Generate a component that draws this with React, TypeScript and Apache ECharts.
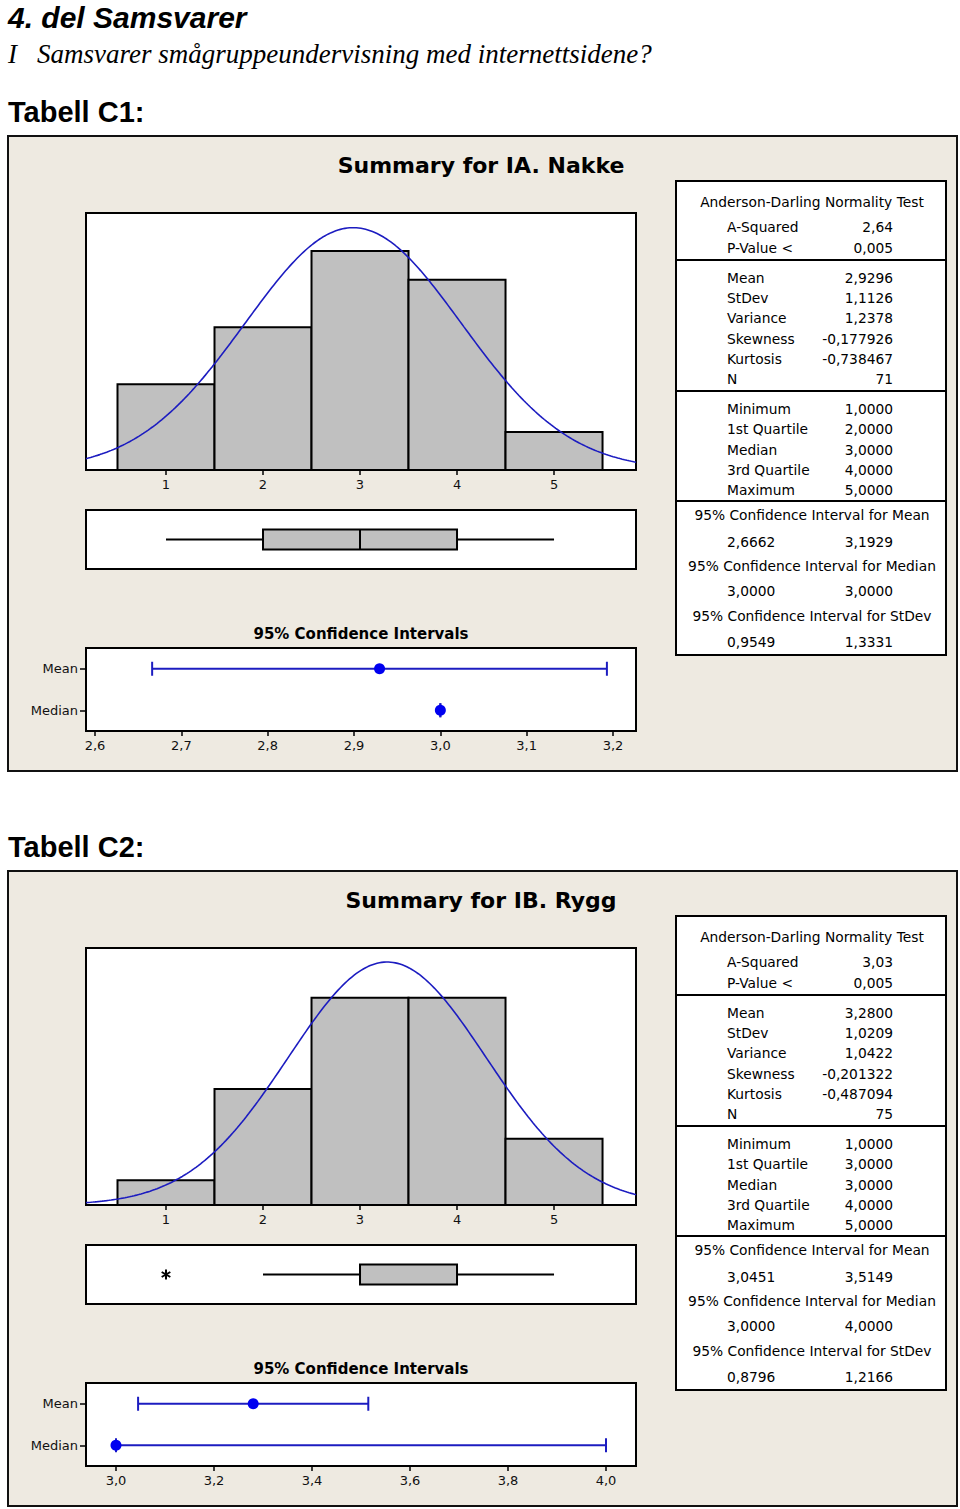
import React, { useEffect, useRef } from "react";
import * as echarts from "echarts";

// ---------------- data ----------------
const BIN_VALUES = [1, 2, 3, 4, 5];
const COUNTS_C1 = [9, 15, 23, 20, 4];
const COUNTS_C2 = [3, 14, 25, 25, 8];
const HIST_TICKS = [1, 2, 3, 4, 5];

const MEAN_C1 = 2.9296;
const SD_C1 = 1.1126;
const N_C1 = 71;
const MEAN_C2 = 3.28;
const SD_C2 = 1.0209;
const N_C2 = 75;

// whisker low, Q1, median, Q3, whisker high
const BOX_C1 = [1, 2, 3, 4, 5];
const BOX_C2 = [2, 3, 3, 4, 5];
const OUTLIERS_C1: number[] = [];
const OUTLIERS_C2 = [1];

const CI_CATEGORIES = ["Median", "Mean"];
// low, high, point
const CI_MEAN_C1 = [2.6662, 3.1929, 2.9296];
const CI_MEDIAN_C1 = [3.0, 3.0, 3.0];
const CI_MEAN_C2 = [3.0451, 3.5149, 3.28];
const CI_MEDIAN_C2 = [3.0, 4.0, 3.0];
const CI_TICKS_C1 = [2.6, 2.7, 2.8, 2.9, 3.0, 3.1, 3.2];
const CI_TICKS_C2 = [3.0, 3.2, 3.4, 3.6, 3.8, 4.0];

const SUMMARY_TITLES = ["Summary for IA. Nakke", "Summary for IB. Rygg"];
const TABLE_HEADINGS = ["Tabell C1:", "Tabell C2:"];

const AD_TITLE = "Anderson-Darling Normality Test";
const AD_LABELS = ["A-Squared", "P-Value <"];
const AD_VALUES_C1 = ["2,64", "0,005"];
const AD_VALUES_C2 = ["3,03", "0,005"];
const MOMENT_LABELS = ["Mean", "StDev", "Variance", "Skewness", "Kurtosis", "N"];
const MOMENT_VALUES_C1 = ["2,9296", "1,1126", "1,2378", "-0,177926", "-0,738467", "71"];
const MOMENT_VALUES_C2 = ["3,2800", "1,0209", "1,0422", "-0,201322", "-0,487094", "75"];
const QUANT_LABELS = ["Minimum", "1st Quartile", "Median", "3rd Quartile", "Maximum"];
const QUANT_VALUES_C1 = ["1,0000", "2,0000", "3,0000", "4,0000", "5,0000"];
const QUANT_VALUES_C2 = ["1,0000", "3,0000", "3,0000", "4,0000", "5,0000"];
const CI_TITLES = [
  "95% Confidence Interval for Mean",
  "95% Confidence Interval for Median",
  "95% Confidence Interval for StDev",
];
const CI_VALUES_C1 = [["2,6662", "3,1929"], ["3,0000", "3,0000"], ["0,9549", "1,3331"]];
const CI_VALUES_C2 = [["3,0451", "3,5149"], ["3,0000", "4,0000"], ["0,8796", "1,2166"]];

// ---------------- helpers ----------------
const FONT = '"DejaVu Sans", "Noto Sans", sans-serif';
const BLUE_LINE = "#1C1CC0";
const BLUE_DOT = "#0000F0";

function normalCurve(mean: number, sd: number, n: number, lo: number, hi: number) {
  const pts: number[][] = [];
  const steps = 240;
  for (let i = 0; i <= steps; i++) {
    const x = lo + ((hi - lo) * i) / steps;
    const y = (n * Math.exp(-0.5 * ((x - mean) / sd) ** 2)) / (sd * Math.sqrt(2 * Math.PI));
    pts.push([x, y]);
  }
  return pts;
}

function txt(x: number, y: number, text: string, font: string, align = "left", z = 20) {
  return {
    type: "text",
    z,
    style: {
      x,
      y,
      text,
      font,
      fill: "#000",
      textAlign: align,
      align,
      textVerticalAlign: "middle",
      verticalAlign: "middle",
    },
  };
}

function hline(x1: number, x2: number, y: number, z = 15) {
  return {
    type: "line",
    z,
    shape: { x1, y1: y, x2, y2: y },
    style: { stroke: "#000", lineWidth: 2 },
  };
}

const HIST_MIN = 0.1753;
const HIST_MAX = 5.845;

function buildPanel(k: number) {
  const dy = 735 * k;
  const counts = k === 0 ? COUNTS_C1 : COUNTS_C2;
  const mean = k === 0 ? MEAN_C1 : MEAN_C2;
  const sd = k === 0 ? SD_C1 : SD_C2;
  const n = k === 0 ? N_C1 : N_C2;
  const box = k === 0 ? BOX_C1 : BOX_C2;
  const outliers = k === 0 ? OUTLIERS_C1 : OUTLIERS_C2;
  const ciMean = k === 0 ? CI_MEAN_C1 : CI_MEAN_C2;
  const ciMedian = k === 0 ? CI_MEDIAN_C1 : CI_MEDIAN_C2;
  const ciTicks = k === 0 ? CI_TICKS_C1 : CI_TICKS_C2;
  const ciMin = k === 0 ? 2.5896 : 2.9388;
  const ciMax = k === 0 ? 3.2266 : 4.0612;
  const histMax = k === 0 ? 27 : 31;
  const gi = k * 3;

  const grids = [
    { left: 86, top: 213 + dy, width: 550, height: 257 },
    { left: 86, top: 510 + dy, width: 550, height: 59 },
    { left: 86, top: 648 + dy, width: 550, height: 83 },
  ].map((g) => ({
    ...g,
    show: true,
    backgroundColor: "#fff",
    borderColor: "#000",
    borderWidth: 2,
    containLabel: false,
    z: 1,
  }));

  const axisLabelBase = { fontFamily: FONT, fontSize: 13, color: "#111" };

  const xAxes = [
    {
      gridIndex: gi,
      type: "value",
      min: HIST_MIN,
      max: HIST_MAX,
      axisLine: { show: false },
      splitLine: { show: false },
      axisTick: {
        show: true,
        length: 5,
        customValues: HIST_TICKS,
        lineStyle: { color: "#000", width: 1.5 },
      },
      axisLabel: { ...axisLabelBase, margin: 8, customValues: HIST_TICKS, formatter: (v: number) => String(v) },
    },
    {
      gridIndex: gi + 1,
      type: "value",
      min: HIST_MIN,
      max: HIST_MAX,
      show: false,
      splitLine: { show: false },
    },
    {
      gridIndex: gi + 2,
      type: "value",
      min: ciMin,
      max: ciMax,
      axisLine: { show: false },
      splitLine: { show: false },
      axisTick: {
        show: true,
        length: 5,
        customValues: ciTicks,
        lineStyle: { color: "#000", width: 1.5 },
      },
      axisLabel: {
        ...axisLabelBase,
        margin: 8,
        customValues: ciTicks,
        formatter: (v: number) => v.toFixed(1).replace(".", ","),
      },
    },
  ];

  const yAxes = [
    { gridIndex: gi, type: "value", min: 0, max: histMax, show: false, splitLine: { show: false } },
    { gridIndex: gi + 1, type: "value", min: 0, max: 1, show: false, splitLine: { show: false } },
    {
      gridIndex: gi + 2,
      type: "category",
      data: CI_CATEGORIES,
      axisLine: { show: false },
      splitLine: { show: false },
      axisTick: { show: true, length: 6, alignWithLabel: true, lineStyle: { color: "#000", width: 1.5 } },
      axisLabel: { ...axisLabelBase, margin: 8 },
    },
  ];

  const series: any[] = [
    {
      type: "custom",
      xAxisIndex: gi,
      yAxisIndex: gi,
      z: 2,
      silent: true,
      clip: true,
      encode: { x: 0, y: 1 },
      data: BIN_VALUES.map((b, i) => [b, counts[i]]),
      renderItem: (params: any, api: any) => {
        const x = api.value(0);
        const c = api.value(1);
        const p0 = api.coord([x - 0.5, c]);
        const p1 = api.coord([x + 0.5, 0]);
        return {
          type: "rect",
          shape: { x: p0[0], y: p0[1], width: p1[0] - p0[0], height: p1[1] - p0[1] },
          style: { fill: "#C0C0C0", stroke: "#000", lineWidth: 2 },
        };
      },
    },
    {
      type: "line",
      xAxisIndex: gi,
      yAxisIndex: gi,
      z: 4,
      silent: true,
      showSymbol: false,
      symbol: "none",
      clip: true,
      data: normalCurve(mean, sd, n, HIST_MIN, HIST_MAX),
      lineStyle: { color: BLUE_LINE, width: 1.6 },
    },
    {
      type: "custom",
      xAxisIndex: gi + 1,
      yAxisIndex: gi + 1,
      z: 3,
      silent: true,
      encode: { x: [0, 1, 2, 3, 4] },
      data: [box],
      renderItem: (params: any, api: any) => {
        const X = (v: number) => api.coord([v, 0.5])[0];
        const y = api.coord([0, 0.5])[1];
        const [wl, q1, med, q3, wh] = [0, 1, 2, 3, 4].map((i) => api.value(i));
        const st = { stroke: "#000", lineWidth: 2 };
        return {
          type: "group",
          children: [
            { type: "line", shape: { x1: X(wl), y1: y, x2: X(q1), y2: y }, style: st },
            { type: "line", shape: { x1: X(q3), y1: y, x2: X(wh), y2: y }, style: st },
            {
              type: "rect",
              shape: { x: X(q1), y: y - 10, width: X(q3) - X(q1), height: 20 },
              style: { fill: "#C0C0C0", stroke: "#000", lineWidth: 2 },
            },
            { type: "line", shape: { x1: X(med), y1: y - 10, x2: X(med), y2: y + 10 }, style: st },
          ],
        };
      },
    },
    {
      type: "custom",
      xAxisIndex: gi + 1,
      yAxisIndex: gi + 1,
      z: 3,
      silent: true,
      encode: { x: 0 },
      data: outliers.map((v) => [v]),
      renderItem: (params: any, api: any) => {
        const p = api.coord([api.value(0), 0.5]);
        const r = 5;
        const st = { stroke: "#000", lineWidth: 2 };
        const arms = [90, 30, 150].map((deg) => {
          const a = (deg * Math.PI) / 180;
          return {
            type: "line",
            shape: {
              x1: p[0] - r * Math.cos(a),
              y1: p[1] - r * Math.sin(a),
              x2: p[0] + r * Math.cos(a),
              y2: p[1] + r * Math.sin(a),
            },
            style: st,
          };
        });
        return { type: "group", children: arms };
      },
    },
    {
      type: "custom",
      xAxisIndex: gi + 2,
      yAxisIndex: gi + 2,
      z: 3,
      silent: true,
      encode: { x: [0, 1, 2], y: 3 },
      data: [
        [ciMean[0], ciMean[1], ciMean[2], 1],
        [ciMedian[0], ciMedian[1], ciMedian[2], 0],
      ],
      renderItem: (params: any, api: any) => {
        const cat = api.value(3);
        const a = api.coord([api.value(0), cat]);
        const b = api.coord([api.value(1), cat]);
        const p = api.coord([api.value(2), cat]);
        const st = { stroke: BLUE_LINE, lineWidth: 2 };
        return {
          type: "group",
          children: [
            { type: "line", shape: { x1: a[0], y1: a[1], x2: b[0], y2: b[1] }, style: st },
            { type: "line", shape: { x1: a[0], y1: a[1] - 7, x2: a[0], y2: a[1] + 7 }, style: st },
            { type: "line", shape: { x1: b[0], y1: b[1] - 7, x2: b[0], y2: b[1] + 7 }, style: st },
            { type: "circle", shape: { cx: p[0], cy: p[1], r: 5.5 }, style: { fill: BLUE_DOT } },
          ],
        };
      },
    },
  ];

  // graphic
  const adVals = k === 0 ? AD_VALUES_C1 : AD_VALUES_C2;
  const momVals = k === 0 ? MOMENT_VALUES_C1 : MOMENT_VALUES_C2;
  const qVals = k === 0 ? QUANT_VALUES_C1 : QUANT_VALUES_C2;
  const ciVals = k === 0 ? CI_VALUES_C1 : CI_VALUES_C2;
  const tf = `13.8px ${FONT}`;
  const LX = 727;
  const RX = 893;
  const CX = 812;

  const g: any[] = [
    {
      type: "rect",
      z: -10,
      shape: { x: 8, y: 136 + dy, width: 949, height: 635 },
      style: { fill: "#EEEAE1", stroke: "#111", lineWidth: 2 },
    },
    txt(481, 165 + dy, SUMMARY_TITLES[k], `bold 22px ${FONT}`, "center"),
    txt(361, 634 + dy, "95% Confidence Intervals", `bold 15px ${FONT}`, "center"),
    {
      type: "rect",
      z: 12,
      shape: { x: 676, y: 181 + dy, width: 270, height: 474 },
      style: { fill: "#fff", stroke: "#000", lineWidth: 2 },
    },
    hline(676, 946, 260 + dy),
    hline(676, 946, 391 + dy),
    hline(676, 946, 501 + dy),
    txt(CX, 202 + dy, AD_TITLE, tf, "center"),
  ];
  const adY = [227, 248];
  AD_LABELS.forEach((l, i) => {
    g.push(txt(LX, adY[i] + dy, l, tf, "left"));
    g.push(txt(RX, adY[i] + dy, adVals[i], tf, "right"));
  });
  const momY = [278, 298, 318, 339, 359, 379];
  MOMENT_LABELS.forEach((l, i) => {
    g.push(txt(LX, momY[i] + dy, l, tf, "left"));
    g.push(txt(RX, momY[i] + dy, momVals[i], tf, "right"));
  });
  const qY = [409, 429, 450, 470, 490];
  QUANT_LABELS.forEach((l, i) => {
    g.push(txt(LX, qY[i] + dy, l, tf, "left"));
    g.push(txt(RX, qY[i] + dy, qVals[i], tf, "right"));
  });
  const ciTY = [515, 566, 616];
  const ciVY = [542, 591, 642];
  CI_TITLES.forEach((t, i) => {
    g.push(txt(CX, ciTY[i] + dy, t, tf, "center"));
    g.push(txt(LX, ciVY[i] + dy, ciVals[i][0], tf, "left"));
    g.push(txt(RX, ciVY[i] + dy, ciVals[i][1], tf, "right"));
  });
  g.push(txt(8, 112 + dy, TABLE_HEADINGS[k], `bold 29px "Liberation Sans Narrow", "Liberation Sans", Arial, sans-serif`, "left"));

  return { grids, xAxes, yAxes, series, graphic: g };
}

export default function App() {
  const ref = useRef<HTMLDivElement>(null);
  useEffect(() => {
    if (!ref.current) return;
    const chart = echarts.init(ref.current, null, { renderer: "svg" });
    const p1 = buildPanel(0);
    const p2 = buildPanel(1);
    const header: any[] = [
      txt(8, 17, "4. del Samsvarer", `italic bold 30px "Liberation Sans", Arial, sans-serif`, "left"),
      txt(8, 54, "I", `italic 27px "Liberation Serif", "DejaVu Serif", serif`, "left"),
      txt(37, 54, "Samsvarer smågruppeundervisning med internettsidene?", `italic 27px "Liberation Serif", "DejaVu Serif", serif`, "left"),
    ];
    const option: any = {
      animation: false,
      backgroundColor: "#fff",
      grid: [...p1.grids, ...p2.grids],
      xAxis: [...p1.xAxes, ...p2.xAxes],
      yAxis: [...p1.yAxes, ...p2.yAxes],
      series: [...p1.series, ...p2.series],
      graphic: { elements: [...header, ...p1.graphic, ...p2.graphic] },
    };
    chart.setOption(option);
    return () => chart.dispose();
  }, []);
  return (
    <div
      ref={ref}
      style={{ position: "absolute", left: 0, top: 0, width: 960, height: 1509 }}
    />
  );
}
